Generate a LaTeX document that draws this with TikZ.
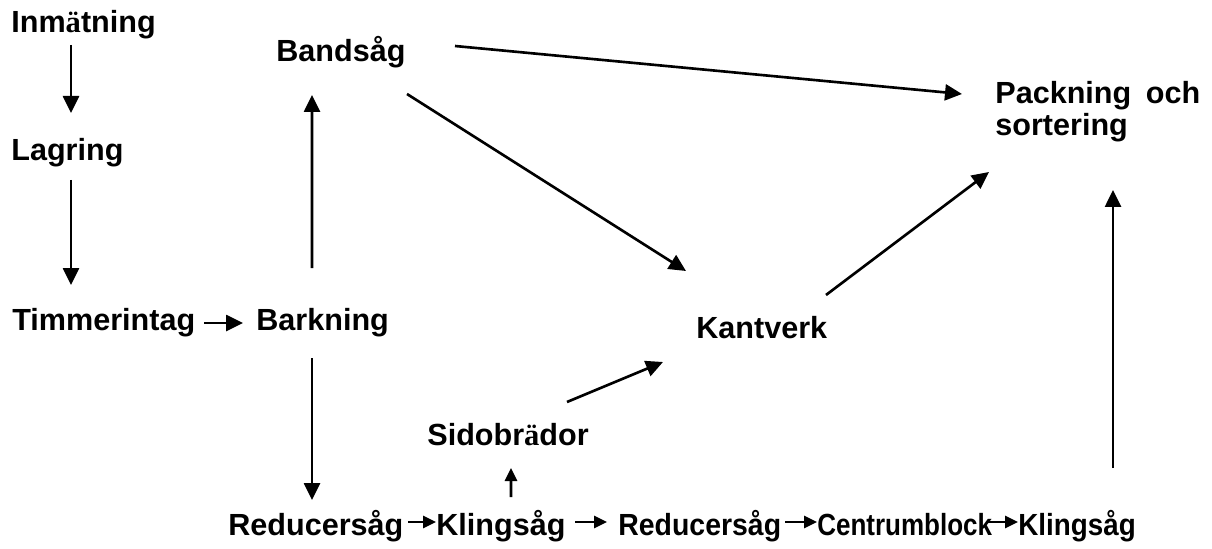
\documentclass[tikz,border=0pt]{standalone}
\usepackage{fontspec}
\setmainfont{Liberation Sans}
\newfontfamily\tmsfont{Liberation Serif}
\usetikzlibrary{arrows.meta}

% the umlaut is set in a serif face, as in the original
\newcommand{\uml}{{\tmsfont ä}}

\begin{document}
\begin{tikzpicture}[
  step lbl/.style={font=\fontsize{17.4}{18.2}\selectfont\bfseries,
                   inner sep=0pt, anchor=base west},
  arr/.style={-{Triangle[length=0.34cm, width=0.32cm]}, line width=1.5pt},
  sarr/.style={-{Triangle[length=0.26cm, width=0.24cm]}, line width=1.5pt},
]
\useasboundingbox (0,0) rectangle (24.24,10.96);

% left column
\node[step lbl] (inm)  at (0.22,10.30) {Inm\uml tning};
\node[step lbl] (lag)  at (0.22,7.76)  {Lagring};
\node[step lbl] (tim)  at (0.24,4.36)  {Timmerintag};
\node[step lbl] (bark) at (5.12,4.36)  {Barkning};
\node[step lbl] (band) at (5.52,9.72)  {Bandsåg};

% middle and right
\node[step lbl] (kant) at (13.92,4.20) {Kantverk};
\node[step lbl] (sido) at (8.54,2.06)  {Sidobr\uml dor};
\node[step lbl, anchor=north west, text width=4.1cm, align=justify,
      execute at begin node={\tolerance=10000\hyphenpenalty=10000}]
  (pack) at (19.90,9.34) {Packning och sortering};

% bottom row
\node[step lbl] (red1) at (4.56,0.26)  {Reducersåg};
\node[step lbl] (kl1)  at (8.72,0.26)  {Klingsåg};
\node[step lbl] (red2) at (12.36,0.26) {\scalebox{0.93}[1]{Reducersåg}};
\node[step lbl] (cent) at (16.34,0.26) {\scalebox{0.85}[1]{Centrumblock}};
\node[step lbl] (kl2)  at (20.36,0.26) {\scalebox{0.91}[1]{Klingsåg}};

% connectors
\draw[arr] ([shift={(1.20,-0.24)}]inm.base west) -- ([shift={(1.20,0.94)}]lag.base west);
\draw[arr] ([shift={(1.20,-0.40)}]lag.base west) -- ([shift={(1.18,0.90)}]tim.base west);
\draw[arr] ([shift={(3.84,0.14)}]tim.base west) -- ([shift={(-0.26,0.14)}]bark.base west);
\draw[arr] ([shift={(1.12,1.24)}]bark.base west) -- ([shift={(0.72,-0.66)}]band.base west);
\draw[arr] ([shift={(1.12,-0.56)}]bark.base west) -- ([shift={(1.68,0.70)}]red1.base west);
\draw[arr] ([shift={(3.58,0.32)}]band.base west) -- ([shift={(-0.66,-0.26)}]pack.north west);
\draw[arr] ([shift={(2.62,-0.64)}]band.base west) -- ([shift={(-0.20,1.34)}]kant.base west);
\draw[arr] ([shift={(2.60,0.86)}]kant.base west) -- ([shift={(-0.12,-1.82)}]pack.north west);
\draw[arr] ([shift={(2.80,0.86)}]sido.base west) -- ([shift={(-0.66,-0.48)}]kant.base west);
\draw[sarr] ([shift={(1.50,0.76)}]kl1.base west) -- ([shift={(1.68,-0.46)}]sido.base west);
\draw[arr] ([shift={(1.90,1.34)}]kl2.base west) -- ([shift={(2.36,-2.18)}]pack.north west);

\draw[sarr] ([shift={(3.60,0.26)}]red1.base west) -- ([shift={(0.00,0.26)}]kl1.base west);
\draw[sarr] ([shift={(2.78,0.26)}]kl1.base west) -- ([shift={(-0.22,0.26)}]red2.base west);
\draw[sarr] ([shift={(3.34,0.26)}]red2.base west) -- ([shift={(0.00,0.26)}]cent.base west);
\draw[sarr] ([shift={(3.42,0.26)}]cent.base west) -- ([shift={(0.00,0.26)}]kl2.base west);
\end{tikzpicture}
\end{document}
